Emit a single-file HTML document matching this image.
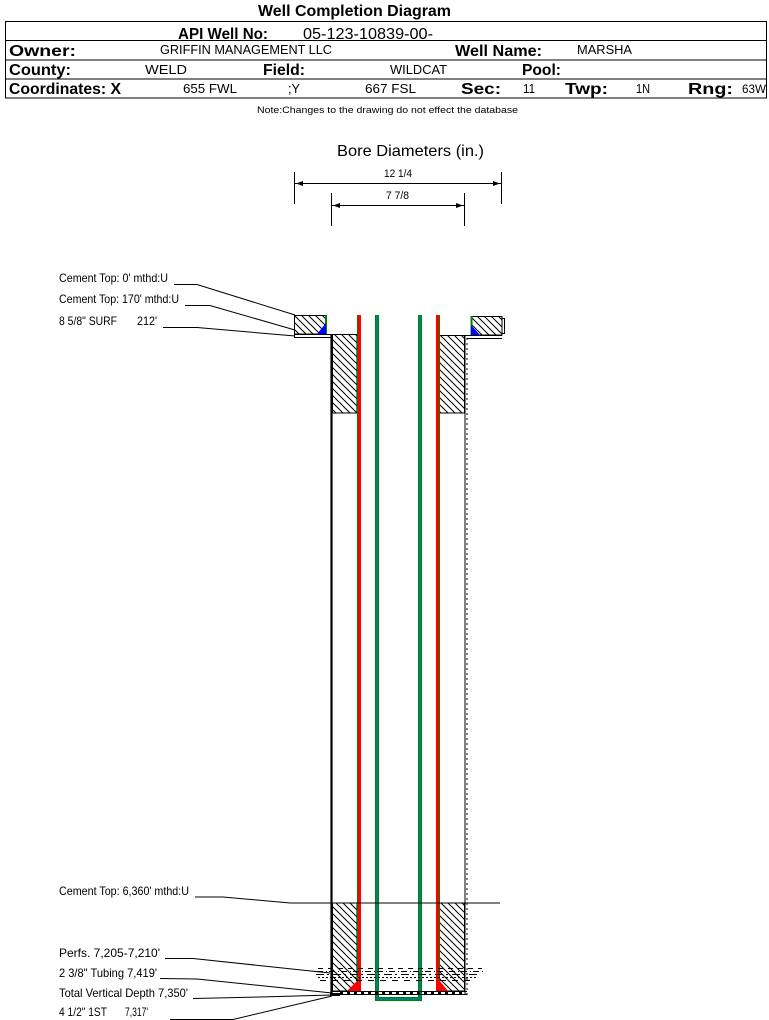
<!DOCTYPE html>
<html>
<head>
<meta charset="utf-8">
<style>
html,body{margin:0;padding:0;background:#fff;}
svg{display:block;}
text{font-family:"Liberation Sans",Arial,sans-serif;fill:#000;}
.b{font-weight:bold;font-size:16px;}
.v{font-size:13px;}
.l{font-size:12px;}
</style>
</head>
<body>
<svg width="769" height="1020" viewBox="0 0 769 1020" xmlns="http://www.w3.org/2000/svg">
<defs>
<pattern id="h" patternUnits="userSpaceOnUse" width="7" height="7">
<path d="M-1,-1 L8,8 M-1,6 L1,8 M6,-1 L8,1" stroke="#000" stroke-width="1"/>
</pattern>
</defs>
<rect width="769" height="1020" fill="#fff"/>

<!-- Header -->
<text x="258" y="16" class="b" textLength="193" lengthAdjust="spacingAndGlyphs">Well Completion Diagram</text>
<g stroke="#000" stroke-width="1" fill="none">
<rect x="5.5" y="21.5" width="761" height="76.5"/>
<line x1="5" y1="40.5" x2="767" y2="40.5"/>
<line x1="5" y1="60" x2="767" y2="60"/>
<line x1="5" y1="79" x2="767" y2="79"/>
</g>
<text x="178" y="39" class="b" textLength="90" lengthAdjust="spacingAndGlyphs">API Well No:</text>
<text x="303" y="39" style="font-size:16px" textLength="130" lengthAdjust="spacingAndGlyphs">05-123-10839-00-</text>

<text x="9" y="56" class="b" textLength="67" lengthAdjust="spacingAndGlyphs">Owner:</text>
<text x="160" y="54" class="v" textLength="172" lengthAdjust="spacingAndGlyphs">GRIFFIN MANAGEMENT LLC</text>
<text x="455" y="56" class="b" textLength="87" lengthAdjust="spacingAndGlyphs">Well Name:</text>
<text x="577" y="54" class="v" textLength="55" lengthAdjust="spacingAndGlyphs">MARSHA</text>

<text x="9" y="75" class="b" textLength="62" lengthAdjust="spacingAndGlyphs">County:</text>
<text x="145" y="74" class="v" textLength="42" lengthAdjust="spacingAndGlyphs">WELD</text>
<text x="263" y="75" class="b" textLength="42" lengthAdjust="spacingAndGlyphs">Field:</text>
<text x="390" y="74" class="v" textLength="57" lengthAdjust="spacingAndGlyphs">WILDCAT</text>
<text x="522" y="75" class="b" textLength="39" lengthAdjust="spacingAndGlyphs">Pool:</text>

<text x="9" y="94" class="b" textLength="112" lengthAdjust="spacingAndGlyphs">Coordinates: X</text>
<text x="183" y="93" class="v" textLength="54" lengthAdjust="spacingAndGlyphs">655 FWL</text>
<text x="288" y="93" class="v" textLength="12" lengthAdjust="spacingAndGlyphs">;Y</text>
<text x="365" y="93" class="v" textLength="51" lengthAdjust="spacingAndGlyphs">667 FSL</text>
<text x="461" y="94" class="b" textLength="40" lengthAdjust="spacingAndGlyphs">Sec:</text>
<text x="523" y="93" class="v" textLength="12" lengthAdjust="spacingAndGlyphs">11</text>
<text x="565" y="94" class="b" textLength="43" lengthAdjust="spacingAndGlyphs">Twp:</text>
<text x="636" y="93" class="v" textLength="14" lengthAdjust="spacingAndGlyphs">1N</text>
<text x="688" y="94" class="b" textLength="45" lengthAdjust="spacingAndGlyphs">Rng:</text>
<text x="742" y="93" style="font-size:12px" textLength="24" lengthAdjust="spacingAndGlyphs">63W</text>

<text x="257" y="113" style="font-size:9px" textLength="261" lengthAdjust="spacingAndGlyphs">Note:Changes to the drawing do not effect the database</text>

<!-- Bore diameters -->
<text x="337" y="156" style="font-size:16px" textLength="147" lengthAdjust="spacingAndGlyphs">Bore Diameters (in.)</text>
<g stroke="#000" stroke-width="1">
<line x1="294.5" y1="172" x2="294.5" y2="204"/>
<line x1="501.5" y1="172" x2="501.5" y2="204"/>
<line x1="295" y1="183.5" x2="501" y2="183.5"/>
<line x1="331.5" y1="193" x2="331.5" y2="226"/>
<line x1="464.5" y1="193" x2="464.5" y2="226"/>
<line x1="332" y1="205.5" x2="464" y2="205.5"/>
</g>
<g fill="#000">
<polygon points="296,183.5 303,181 303,186"/>
<polygon points="500,183.5 493,181 493,186"/>
<polygon points="333,205.5 340,203 340,208"/>
<polygon points="463,205.5 456,203 456,208"/>
</g>
<text x="384" y="177" style="font-size:11px" textLength="28" lengthAdjust="spacingAndGlyphs">12 1/4</text>
<text x="386" y="199" style="font-size:11px" textLength="23" lengthAdjust="spacingAndGlyphs">7 7/8</text>

<!-- Surface cement blocks -->
<rect x="294.5" y="315.5" width="31" height="18.5" fill="url(#h)" stroke="#000"/>
<line x1="326" y1="315" x2="326" y2="334" stroke="#008000" stroke-width="2"/>
<polygon points="317,334 326,334 326,323" fill="#0000ff"/>
<rect x="471.5" y="316.5" width="30.5" height="18.5" fill="url(#h)" stroke="#000"/>
<line x1="471.5" y1="316" x2="471.5" y2="335" stroke="#008000" stroke-width="2"/>
<polygon points="471,335 480,335 471,325" fill="#0000ff"/>
<polyline points="502,318.5 504.5,318.5 504.5,333.5 502,333.5" fill="none" stroke="#000"/>

<!-- surface shelves -->
<g stroke="#000" stroke-width="1" fill="none">
<line x1="294.5" y1="315" x2="294.5" y2="338"/>
<line x1="294" y1="334.5" x2="332" y2="334.5"/>
<line x1="294" y1="337.5" x2="331" y2="337.5"/>
<line x1="465" y1="335.5" x2="502" y2="335.5"/>
<line x1="467" y1="338.5" x2="502" y2="338.5"/>
</g>

<!-- hatched annulus cement -->
<rect x="332.5" y="334.5" width="24.5" height="78.5" fill="url(#h)" stroke="#000"/>
<rect x="439.5" y="335.5" width="25" height="77.5" fill="url(#h)" stroke="#000"/>
<rect x="332.5" y="903" width="24.5" height="88" fill="url(#h)" stroke="#000"/>
<rect x="439.5" y="903" width="25" height="88" fill="url(#h)" stroke="#000"/>

<!-- bore walls -->
<line x1="331.5" y1="334" x2="331.5" y2="996" stroke="#000" stroke-width="2.2"/>
<line x1="465" y1="335" x2="465" y2="995" stroke="#000" stroke-width="1"/>
<line x1="467" y1="338" x2="467" y2="995" stroke="#000" stroke-width="1" stroke-dasharray="2,3"/>

<!-- casing (red) -->
<rect x="358" y="315" width="3" height="677" fill="#ff0000"/>
<line x1="357.5" y1="315" x2="357.5" y2="992" stroke="#008000" stroke-width="1"/>
<rect x="436" y="315" width="3" height="677" fill="#ff0000"/>
<line x1="439.5" y1="315" x2="439.5" y2="992" stroke="#008000" stroke-width="1"/>
<polygon points="347,991 358,991 358,980" fill="#ff0000"/>
<polygon points="439,980 439,991 448,991" fill="#ff0000"/>

<!-- tubing -->
<path d="M377,315 V999 H420 V315" fill="none" stroke="#008000" stroke-width="4"/>
<path d="M377,315 V999 H420 V315" fill="none" stroke="#008080" stroke-width="2"/>

<!-- bore bottom -->
<g stroke="#000" stroke-width="1">
<line x1="331" y1="991.5" x2="467" y2="991.5"/>
<line x1="331" y1="994.5" x2="467" y2="994.5"/>
</g>
<g stroke="#000" stroke-width="2" stroke-dasharray="3,4">
<line x1="340" y1="993" x2="465" y2="993"/>
</g>

<!-- perfs -->
<g stroke="#000" stroke-width="1" fill="none">
<line x1="318" y1="968.5" x2="482" y2="968.5" stroke-dasharray="5,5"/>
<line x1="314" y1="971.5" x2="484" y2="971.5" stroke-dasharray="1,2,6,3"/>
<line x1="316" y1="974.5" x2="480" y2="974.5" stroke-dasharray="8,3,2,4"/>
<line x1="318" y1="977.5" x2="478" y2="977.5" stroke-dasharray="2,2"/>
<line x1="320" y1="980.5" x2="476" y2="980.5" stroke-dasharray="6,6"/>
</g>

<!-- cement top line bottom -->
<polyline points="195,897 223,897 290,903 500,903" fill="none" stroke="#000"/>

<!-- top labels & leaders -->
<text x="59" y="282" class="l" textLength="109" lengthAdjust="spacingAndGlyphs">Cement Top: 0' mthd:U</text>
<text x="59" y="303" class="l" textLength="120" lengthAdjust="spacingAndGlyphs">Cement Top: 170' mthd:U</text>
<text x="59" y="325" class="l" textLength="58" lengthAdjust="spacingAndGlyphs">8 5/8" SURF</text>
<text x="137" y="325" class="l" textLength="20" lengthAdjust="spacingAndGlyphs">212'</text>
<g stroke="#000" stroke-width="1" fill="none">
<polyline points="174,284.5 197,284.5 295,315"/>
<polyline points="185,305.5 210,305.5 295,330"/>
<polyline points="163,327.5 197,327.5 295,336"/>
</g>

<!-- bottom labels & leaders -->
<text x="59" y="895" class="l" textLength="130" lengthAdjust="spacingAndGlyphs">Cement Top: 6,360' mthd:U</text>
<text x="59" y="957" class="l">Perfs. 7,205-7,210'</text>
<text x="59" y="977" class="l" textLength="98" lengthAdjust="spacingAndGlyphs">2 3/8" Tubing 7,419'</text>
<text x="59" y="997" class="l" textLength="129" lengthAdjust="spacingAndGlyphs">Total Vertical Depth 7,350'</text>
<text x="59" y="1016" class="l" textLength="48" lengthAdjust="spacingAndGlyphs">4 1/2" 1ST</text>
<text x="125" y="1016" class="l" textLength="23" lengthAdjust="spacingAndGlyphs">7,317'</text>
<g stroke="#000" stroke-width="1" fill="none">
<polyline points="165,958.5 193,958.5 330,973"/>
<polyline points="160,978.5 197,979 332,993"/>
<polyline points="193,998.5 260,997 332,995"/>
<polyline points="170,1019.5 233,1019.5 332,996"/>
</g>
<rect x="330" y="993" width="10" height="3" fill="#000"/>
</svg>
</body>
</html>
